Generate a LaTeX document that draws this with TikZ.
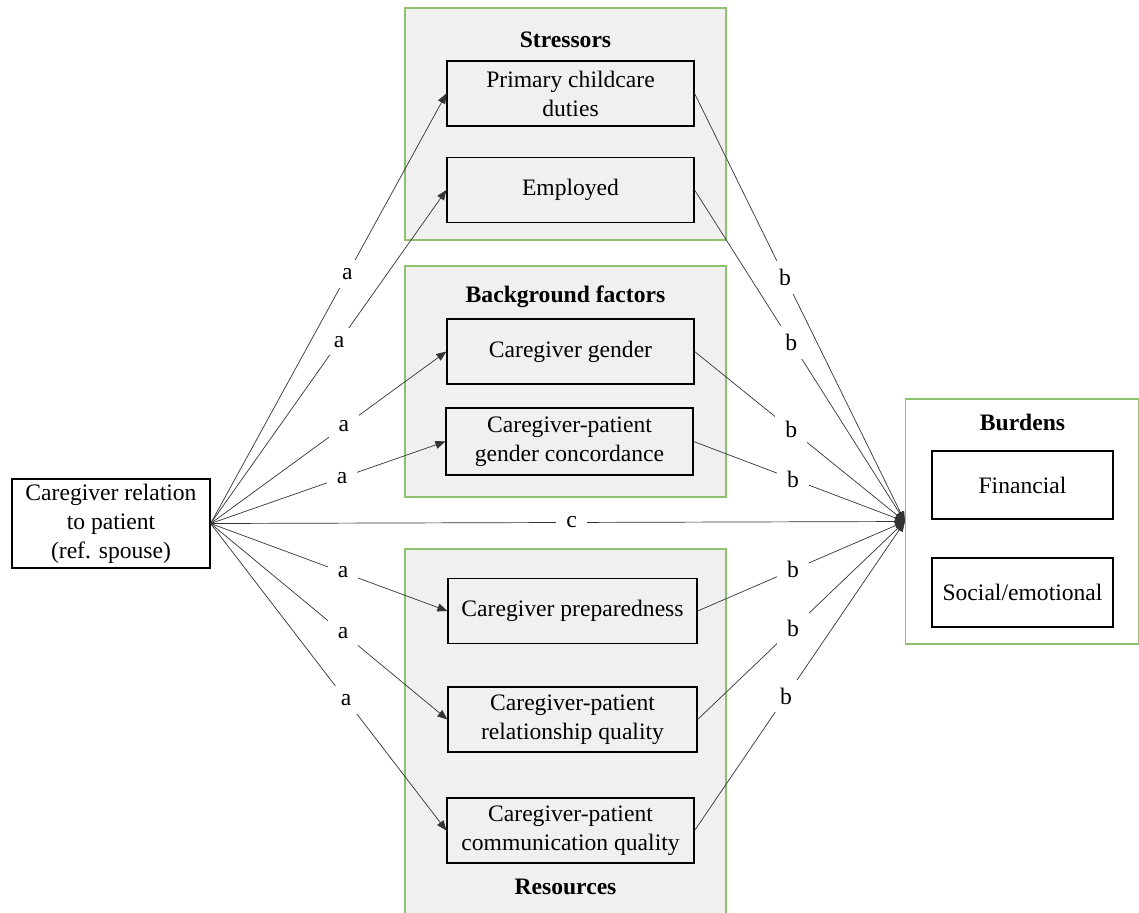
\documentclass[tikz,border=0pt]{standalone}
\usepackage{fontspec}
\setmainfont{Liberation Serif}
\usepackage{xcolor}
\usepackage{tikz}
\usetikzlibrary{arrows.meta,positioning}
\definecolor{groupgreen}{HTML}{8DC26F}
\definecolor{groupfill}{HTML}{F0F0F0}
\definecolor{linegray}{HTML}{333333}
\tikzset{
  group/.style={draw=groupgreen, fill=groupfill, line width=0.6pt, inner sep=0pt},
  grouptitle/.style={font=\fontsize{11.8}{14.5}\selectfont\bfseries, inner sep=0pt},
  factor/.style={draw=black, fill=groupfill, line width=0.6pt, align=center, inner sep=0pt, minimum width=123.5pt, minimum height=32.5pt},
  outcome/.style={factor, fill=white, minimum width=90.5pt, minimum height=34pt},
  arrow/.style={-{Triangle[length=5pt,width=4pt]}, draw=linegray, line width=0.35pt},
  pathlabel/.style={fill=white, inner xsep=5pt, inner ysep=4pt}
}

\begin{document}
\begin{tikzpicture}[x=0.5pt, y=-0.5pt, font=\fontsize{11.8}{14.5}\selectfont]
  \useasboundingbox (0,0) rectangle (1139,912);

  % groups
  \node[group, minimum width=160.5pt, minimum height=116pt] (stressors) at (565.5,124) {};
  \node[group, minimum width=160.5pt, minimum height=115.5pt] (background) at (565.5,381.5) {};
  \node[group, minimum width=160.5pt, minimum height=188pt] (resources) at (565.5,737) {};
  \node[group, fill=white, minimum width=116.5pt, minimum height=122.5pt] (burdens) at (1022,521.5) {};

  \node[grouptitle] (stressorstitle) at (565.5,40) {Stressors};
  \node[grouptitle] (backgroundtitle) at (565.5,297) {Background factors};
  \node[grouptitle] (resourcestitle) at (565.5,887) {Resources};
  \node[grouptitle] (burdenstitle) at (1022.5,422) {Burdens};

  % boxes
  \node[factor, fill=white, minimum width=99pt, minimum height=44.5pt] (relation) at (111,523.5) {Caregiver relation\\to patient\\(ref. spouse)};

  \node[factor] (childcare) at (570.5,93.5) {Primary childcare\\duties};
  \node[factor] (employed) at (570.5,190) {Employed};
  \node[factor] (gender) at (570.5,351.5) {Caregiver gender};
  \node[factor, minimum height=33.5pt] (concordance) at (569.5,441.5) {Caregiver-patient\\gender concordance};
  \node[factor, minimum width=124.5pt] (preparedness) at (572.5,611) {Caregiver preparedness};
  \node[factor, minimum width=124.5pt] (relationship) at (572.5,719.5) {Caregiver-patient\\relationship quality};
  \node[factor] (communication) at (570.5,830.5) {Caregiver-patient\\communication quality};

  \node[outcome] (financial) at (1022.5,485) {Financial};
  \node[outcome, minimum height=34.5pt] (social) at (1022.5,592.5) {Social/emotional};

  % a paths
  \draw[arrow] (relation.east) -- node[pathlabel, pos=0.58] {a} (childcare.west);
  \draw[arrow] (relation.east) -- node[pathlabel, pos=0.545] {a} (employed.west);
  \draw[arrow] (relation.east) -- node[pathlabel, pos=0.565] {a} (gender.west);
  \draw[arrow] (relation.east) -- node[pathlabel, pos=0.56] {a} (concordance.west);
  \draw[arrow] (relation.east) -- node[pathlabel, pos=0.56] {a} (preparedness.west);
  \draw[arrow] (relation.east) -- node[pathlabel, pos=0.56] {a} (relationship.west);
  \draw[arrow] (relation.east) -- node[pathlabel, pos=0.575] {a} (communication.west);

  % b paths
  \draw[arrow] (childcare.east) -- node[pathlabel, pos=0.43] {b} (burdens.west);
  \draw[arrow] (employed.east) -- node[pathlabel, pos=0.46] {b} (burdens.west);
  \draw[arrow] (gender.east) -- node[pathlabel, pos=0.46] {b} (burdens.west);
  \draw[arrow] (concordance.east) -- node[pathlabel, pos=0.47] {b} (burdens.west);
  \draw[arrow] (preparedness.east) -- node[pathlabel, pos=0.46] {b} (burdens.west);
  \draw[arrow] (relationship.east) -- node[pathlabel, pos=0.46] {b} (burdens.west);
  \draw[arrow] (communication.east) -- node[pathlabel, pos=0.435] {b} (burdens.west);

  % c path
  \draw[arrow] (relation.east) -- node[pathlabel, pos=0.52] {c} (burdens.west);
\end{tikzpicture}
\end{document}
